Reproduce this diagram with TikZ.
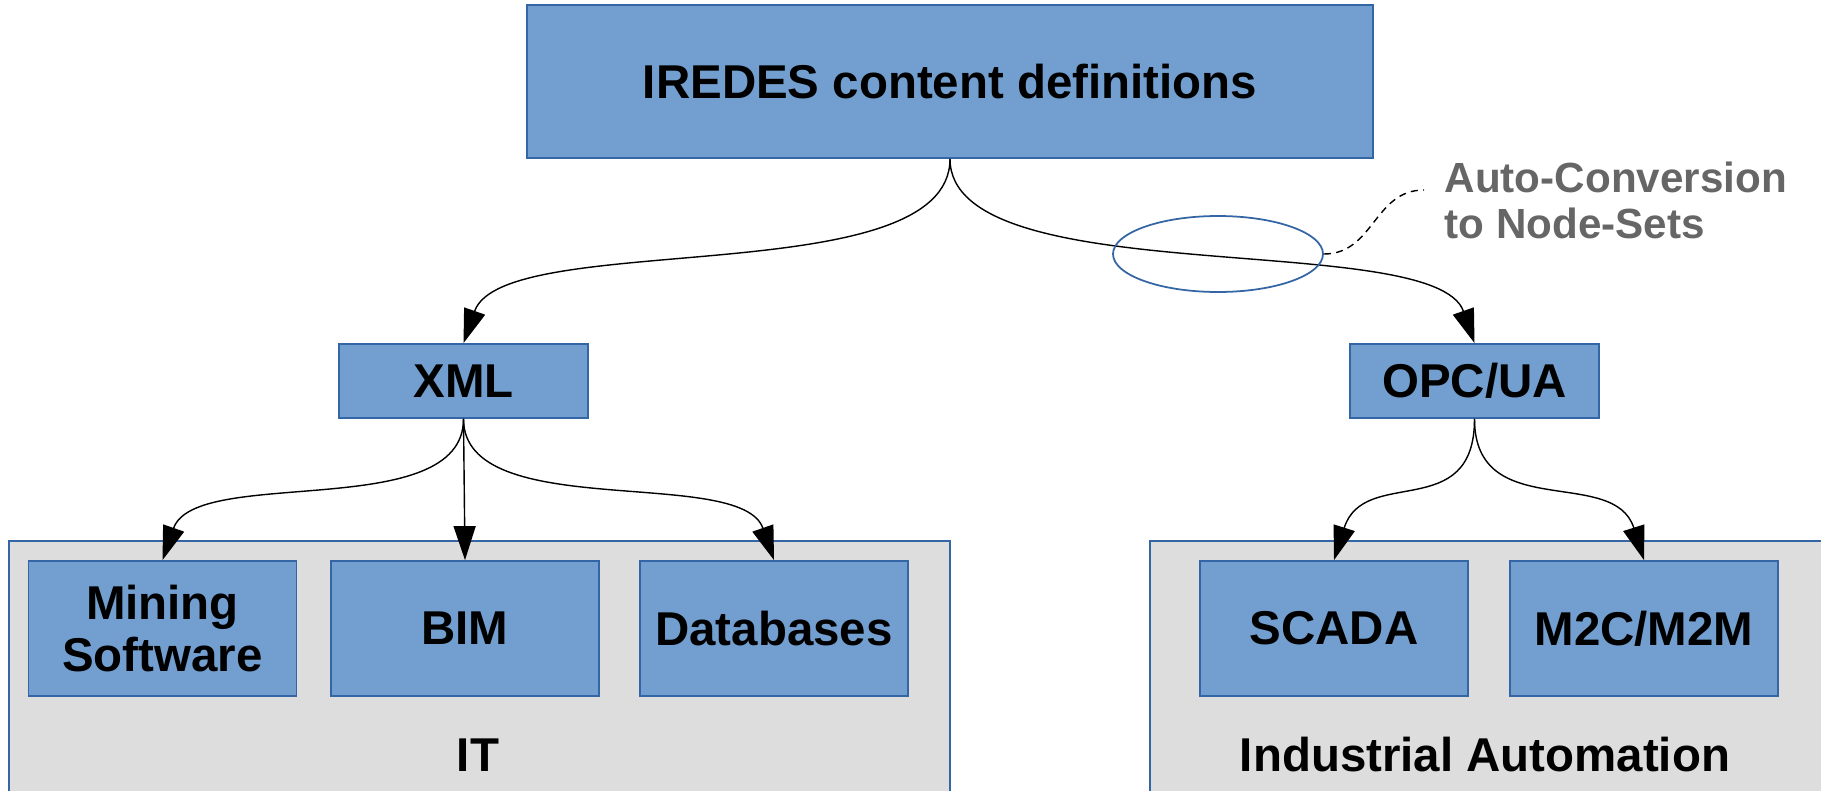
\documentclass[tikz,border=0pt]{standalone}
\usepackage{fontspec}
\setmainfont{Liberation Sans}
\usepackage{tikz}
\usetikzlibrary{arrows.meta,shapes.geometric}
\definecolor{boxblue}{HTML}{729FCF}
\definecolor{edgeblue}{HTML}{3465A4}
\definecolor{groupgray}{HTML}{DDDDDD}
\definecolor{notegray}{HTML}{666666}

\begin{document}
\begin{tikzpicture}[
    box/.style={draw=edgeblue, fill=boxblue, line width=0.5pt, inner sep=0pt, align=center,
        font=\fontsize{13.5}{15}\selectfont\bfseries},
    leaf/.style={box, minimum width=2.68cm, minimum height=1.35cm},
    group/.style={draw=edgeblue, fill=groupgray, line width=0.5pt},
    grouplabel/.style={font=\fontsize{13.5}{15}\selectfont\bfseries},
    conn/.style={-{Triangle[length=0.34cm,width=0.22cm]}, line width=0.4pt}
  ]
    \clip (0,0) rectangle (18.21,7.9);
    % the two groups at the bottom
    \draw[group] (0.09,-0.5) rectangle (9.50,2.49);
    \draw[group] (11.50,-0.5) rectangle (18.7,2.49);
    \node[grouplabel] (it) at (4.78,0.35) {IT};
    \node[grouplabel] (ia) at (14.85,0.35) {Industrial Automation};

    \node[box, minimum width=8.46cm, minimum height=1.53cm] (iredes) at (9.50,7.085) {IREDES content definitions};
    \node[box, minimum width=2.49cm, minimum height=0.74cm] (xml) at (4.635,4.09) {XML};
    \node[box, minimum width=2.49cm, minimum height=0.74cm] (opcua) at (14.745,4.09) {OPC/UA};

    \node[leaf] (mining) at (1.625,1.615) {Mining\\Software};
    \node[leaf] (bim) at (4.65,1.615) {BIM};
    \node[leaf] (dbs) at (7.74,1.615) {Databases};
    \node[leaf] (scada) at (13.34,1.615) {SCADA};
    \node[leaf] (mtwo) at (16.44,1.615) {M2C/M2M};

    % connectors
    \draw[conn] (iredes.south) .. controls +(0,-1.35) and +(0.4,1.15) .. (xml.north);
    \draw[conn] (iredes.south) .. controls +(0,-1.35) and +(-0.4,1.15) .. (opcua.north);
    \foreach \leafname/\dx in {mining/0.33, dbs/-0.33}
        \draw[conn] (xml.south) .. controls +(0,-1.05) and +(\dx,0.95) .. (\leafname.north);
    \draw[conn] (xml.south) -- (bim.north);
    \foreach \leafname/\dx in {scada/0.3, mtwo/-0.3}
        \draw[conn] (opcua.south) .. controls +(0,-1.05) and +(\dx,0.95) .. (\leafname.north);

    % auto-conversion note
    \node[draw=edgeblue, ellipse, minimum width=2.1cm, minimum height=0.76cm, inner sep=0pt, line width=0.5pt] (conv) at (12.18,5.36) {};
    \node[anchor=west, text=notegray, align=left, inner sep=0pt,
        font=\fontsize{12}{13.1}\selectfont\bfseries] (note) at (14.44,5.90) {Auto-Conversion\\to Node-Sets};
    \draw[dash pattern=on 2pt off 1.5pt, line width=0.4pt] (conv.east) .. controls +(0.5,0) and +(-0.5,0) .. ([xshift=-0.2cm,yshift=0.1cm]note.west);
\end{tikzpicture}
\end{document}
